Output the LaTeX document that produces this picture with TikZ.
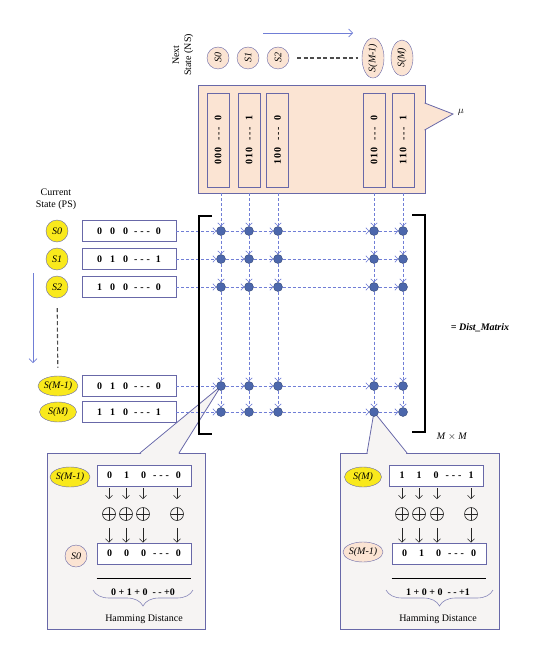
\documentclass[tikz,border=0pt]{standalone}
\usepackage{fontspec}
\setmainfont{Liberation Serif}
\usepackage{amssymb}
\usepackage{amsmath}
\usetikzlibrary{arrows.meta,positioning,shapes.geometric,decorations.pathreplacing,backgrounds,calc}

\definecolor{peach}{RGB}{251,228,211}
\definecolor{frame}{RGB}{104,104,168}
\definecolor{stateyel}{RGB}{249,233,28}
\definecolor{gridblue}{RGB}{112,126,214}
\definecolor{dotblue}{RGB}{76,103,172}
\definecolor{insetgray}{RGB}{246,244,243}

\newcommand{\bitrow}[4]{#1\hspace{8pt}#2\hspace{8pt}#3\hspace{6pt}-\hspace{3pt}-\hspace{3pt}-\hspace{6pt}#4}
\newcommand{\bitcol}[4]{#1\hspace{1pt}#2\hspace{1pt}#3\hspace{7pt}-\hspace{2pt}-\hspace{2pt}-\hspace{7pt}#4}
\newcommand{\xorrow}[4]{#1\hspace{12pt}#2\hspace{12pt}#3\hspace{7pt}-\hspace{3pt}-\hspace{3pt}-\hspace{7pt}#4}

\begin{document}
\begin{tikzpicture}[x=1pt, y=-1pt,
        state/.style={circle, draw=frame, fill=stateyel, inner sep=0pt, minimum size=22pt, font=\itshape},
        longstate/.style={ellipse, draw=frame, fill=stateyel, inner sep=0pt, minimum width=37pt, minimum height=20pt, font=\itshape},
        bitbox/.style={draw=frame, fill=white, line width=0.7pt, inner sep=0pt, minimum width=94pt, minimum height=21pt, font=\bfseries},
        colbox/.style={bitbox, fill=peach, minimum height=22pt, rotate=90},
        dot/.style={circle, draw=dotblue!70!black, fill=dotblue, inner sep=0pt, minimum size=9pt},
        link/.style={draw=gridblue, dash pattern=on 3pt off 2pt, line width=0.6pt, -{Straight Barb[length=3pt,width=6.5pt]}},
        flow/.style={draw=gridblue, line width=0.7pt, -{Straight Barb[length=4pt,width=8pt]}},
        skipline/.style={draw=black!70, dash pattern=on 4pt off 2.5pt, line width=1.1pt},
        xorop/.style={circle, draw=black!85, line width=0.6pt, inner sep=0pt, minimum size=13pt,
            path picture={\draw[black!85, line width=0.6pt] (path picture bounding box.north) -- (path picture bounding box.south)
                (path picture bounding box.west) -- (path picture bounding box.east);}},
        down/.style={draw=black!85, line width=0.6pt, -{Straight Barb[length=3.5pt,width=7pt]}},
        inset/.style={draw=frame, fill=insetgray, line width=0.8pt, inner sep=0pt, minimum height=176pt},
        bracketline/.style={draw=black, line width=1.3pt},
        rulebar/.style={draw=black, line width=1.5pt},
        hbrace/.style={draw=frame!80, line width=0.6pt, decorate, decoration={brace, mirror, amplitude=16pt}}]
        \useasboundingbox (0,0) rectangle (542,660);

        % next states along the top
        \coordinate (nsa) at (263,33);
        \coordinate (nsb) at (353,33);
        \draw[flow] (nsa) -- (nsb);
        \node[rotate=90, align=center, inner sep=0pt] (nslabel) at (183,55) {Next\\State (NS)};
        \node[state, fill=peach, rotate=90] (ns0) at (218,58) {S0};
        \node[state, fill=peach, rotate=90] (ns1) at (248,58) {S1};
        \node[state, fill=peach, rotate=90] (ns2) at (278,58) {S2};
        \node[longstate, fill=peach, rotate=90, minimum width=40pt, minimum height=22pt] (nsm1) at (373,58) {S(M-1)};
        \node[longstate, fill=peach, rotate=90, minimum width=36pt, minimum height=22pt] (nsm) at (402,58) {S(M)};
        \draw[skipline, shorten <=8pt, shorten >=4pt] (ns2) -- (nsm1);

        \node[draw=frame, fill=peach, line width=0.8pt, minimum width=227pt, minimum height=108pt] (nsbox) at (311.5,139) {};
        \filldraw[fill=peach, draw=frame, line width=0.8pt] (424.6,103) -- (453,114) -- (424.6,130);
        \node (mu) at (461,112) {$\mu$};
        \node[colbox] (t1) at (218,140) {\bitcol{0}{0}{0}{0}};
        \node[colbox] (t2) at (249,140) {\bitcol{0}{1}{0}{1}};
        \node[colbox] (t3) at (277.5,140) {\bitcol{1}{0}{0}{0}};
        \node[colbox] (t4) at (374,140) {\bitcol{0}{1}{0}{0}};
        \node[colbox] (t5) at (403,140) {\bitcol{1}{1}{0}{1}};

        % current states on the left
        \node[align=center, inner sep=0pt] (pslabel) at (56,199) {Current\\State (PS)};
        \node[state] (s0) at (57,231) {S0};
        \node[state] (s1) at (57,259) {S1};
        \node[state] (s2) at (57,287) {S2};
        \node[longstate] (sm1) at (58,386) {S(M-1)};
        \node[longstate] (sm) at (58,412) {S(M)};
        \draw[skipline, shorten <=10pt, shorten >=8pt] (s2) -- (sm1);
        \coordinate (psa) at (33,273);
        \coordinate (psb) at (33,363);
        \draw[flow] (psa) -- (psb);

        \node[bitbox] (b1) at (129,231) {\bitrow{0}{0}{0}{0}};
        \node[bitbox] (b2) at (129,259) {\bitrow{0}{1}{0}{1}};
        \node[bitbox] (b3) at (129,287) {\bitrow{1}{0}{0}{0}};
        \node[bitbox] (b4) at (129,386) {\bitrow{0}{1}{0}{0}};
        \node[bitbox] (b5) at (129,412) {\bitrow{1}{1}{0}{1}};

        % distance matrix
        \node[dot] (11) at (221,231) {};
        \node[dot] (12) at (249,231) {};
        \node[dot] (13) at (278,231) {};
        \node[dot] (14) at (374,231) {};
        \node[dot] (15) at (403,231) {};
        \node[dot] (21) at (221,259) {};
        \node[dot] (22) at (249,259) {};
        \node[dot] (23) at (278,259) {};
        \node[dot] (24) at (374,259) {};
        \node[dot] (25) at (403,259) {};
        \node[dot] (31) at (221,287) {};
        \node[dot] (32) at (249,287) {};
        \node[dot] (33) at (278,287) {};
        \node[dot] (34) at (374,287) {};
        \node[dot] (35) at (403,287) {};
        \node[dot] (41) at (221,386) {};
        \node[dot] (42) at (249,386) {};
        \node[dot] (43) at (278,386) {};
        \node[dot] (44) at (374,386) {};
        \node[dot] (45) at (403,386) {};
        \node[dot] (51) at (221,412) {};
        \node[dot] (52) at (249,412) {};
        \node[dot] (53) at (278,412) {};
        \node[dot] (54) at (374,412) {};
        \node[dot] (55) at (403,412) {};

        \draw (b1) edge[link] (11) (11) edge[link] (12) (12) edge[link] (13) (13) edge[link] (14) (14) edge[link] (15)
              (b2) edge[link] (21) (21) edge[link] (22) (22) edge[link] (23) (23) edge[link] (24) (24) edge[link] (25)
              (b3) edge[link] (31) (31) edge[link] (32) (32) edge[link] (33) (33) edge[link] (34) (34) edge[link] (35)
              (b4) edge[link] (41) (41) edge[link] (42) (42) edge[link] (43) (43) edge[link] (44) (44) edge[link] (45)
              (b5) edge[link] (51) (51) edge[link] (52) (52) edge[link] (53) (53) edge[link] (54) (54) edge[link] (55);
        \draw (11 |- nsbox.south) edge[link] (11) (11) edge[link] (21) (21) edge[link] (31) (31) edge[link] (41) (41) edge[link] (51)
              (12 |- nsbox.south) edge[link] (12) (12) edge[link] (22) (22) edge[link] (32) (32) edge[link] (42) (42) edge[link] (52)
              (13 |- nsbox.south) edge[link] (13) (13) edge[link] (23) (23) edge[link] (33) (33) edge[link] (43) (43) edge[link] (53)
              (14 |- nsbox.south) edge[link] (14) (14) edge[link] (24) (24) edge[link] (34) (34) edge[link] (44) (44) edge[link] (54)
              (15 |- nsbox.south) edge[link] (15) (15) edge[link] (25) (25) edge[link] (35) (35) edge[link] (45) (45) edge[link] (55);

        \draw[bracketline] (212,216) -- (199,216) -- (199,434) -- (212,434);
        \draw[bracketline] (412,215) -- (425,215) -- (425,432) -- (412,432);
        \node[font=\bfseries\itshape] (dist) at (480,328) {= Dist\_Matrix};
        \node (mm) at (452,437) {\textit{M} $\times$ \textit{M}};

        % left zoom: S(M-1) against S0
        \node[longstate] (is1) at (70,477) {S(M-1)};
        \node[bitbox] (ia1) at (144,475.5) {\xorrow{0}{1}{0}{0}};
        \node[xorop] (x11) at (109,514) {};
        \node[xorop] (x12) at (126,514) {};
        \node[xorop] (x13) at (143,514) {};
        \node[xorop] (x14) at (177,514) {};
        \node[state, fill=peach] (is2) at (76,556) {S0};
        \node[bitbox] (ib1) at (144,553.5) {\xorrow{0}{0}{0}{0}};
        \draw (x11 |- ia1.south) edge[down, shorten <=2pt, shorten >=8pt] (x11) (x11) edge[down, shorten <=7pt] (x11 |- ib1.north)
              (x12 |- ia1.south) edge[down, shorten <=2pt, shorten >=8pt] (x12) (x12) edge[down, shorten <=7pt] (x12 |- ib1.north)
              (x13 |- ia1.south) edge[down, shorten <=2pt, shorten >=8pt] (x13) (x13) edge[down, shorten <=7pt] (x13 |- ib1.north)
              (x14 |- ia1.south) edge[down, shorten <=2pt, shorten >=8pt] (x14) (x14) edge[down, shorten <=7pt] (x14 |- ib1.north);
        \draw[rulebar] ($(ib1.south west)+(0,14)$) -- ($(ib1.south east)+(0,14)$);
        \node[font=\bfseries] (sum1) at (143,592) {0 + 1 + 0 \ - - +0};
        \draw[hbrace] (93,590) -- (193,590);
        \node (hd1) at (144,619) {Hamming Distance};

        % right zoom: S(M) against S(M-1)
        \node[longstate] (is3) at (363,477) {S(M)};
        \node[bitbox] (ia2) at (436.5,475.5) {\xorrow{1}{1}{0}{1}};
        \node[xorop] (x21) at (402,514) {};
        \node[xorop] (x22) at (419,514) {};
        \node[xorop] (x23) at (437,514) {};
        \node[xorop] (x24) at (471,514) {};
        \node[longstate, fill=peach] (is4) at (363,552) {S(M-1)};
        \node[bitbox] (ib2) at (439,553.5) {\xorrow{0}{1}{0}{0}};
        \draw (x21 |- ia2.south) edge[down, shorten <=2pt, shorten >=8pt] (x21) (x21) edge[down, shorten <=7pt] (x21 |- ib2.north)
              (x22 |- ia2.south) edge[down, shorten <=2pt, shorten >=8pt] (x22) (x22) edge[down, shorten <=7pt] (x22 |- ib2.north)
              (x23 |- ia2.south) edge[down, shorten <=2pt, shorten >=8pt] (x23) (x23) edge[down, shorten <=7pt] (x23 |- ib2.north)
              (x24 |- ia2.south) edge[down, shorten <=2pt, shorten >=8pt] (x24) (x24) edge[down, shorten <=7pt] (x24 |- ib2.north);
        \draw[rulebar] ($(ib2.south west)+(0,14)$) -- ($(ib2.south east)+(0,14)$);
        \node[font=\bfseries] (sum2) at (438,592) {1 + 0 + 0 \ - - +1};
        \draw[hbrace] (386,590) -- (493,590);
        \node (hd2) at (438,619) {Hamming Distance};

        % the two zoom boxes and their pointers
        \begin{pgfonlayer}{background}
            \node[inset, minimum width=158pt] (inl) at (126,541) {};
            \fill[insetgray] (140.6,454) -- (41.center) -- (178.4,454) -- cycle;
            \draw[frame, line width=0.8pt] (140,453) -- (41.center) -- (179,453);
            \node[inset, minimum width=159pt] (inr) at (419.5,541) {};
            \fill[insetgray] (367.6,454) -- (54.center) -- (406.4,454) -- cycle;
            \draw[frame, line width=0.8pt] (367,453) -- (54.center) -- (407,453);
        \end{pgfonlayer}
\end{tikzpicture}
\end{document}
